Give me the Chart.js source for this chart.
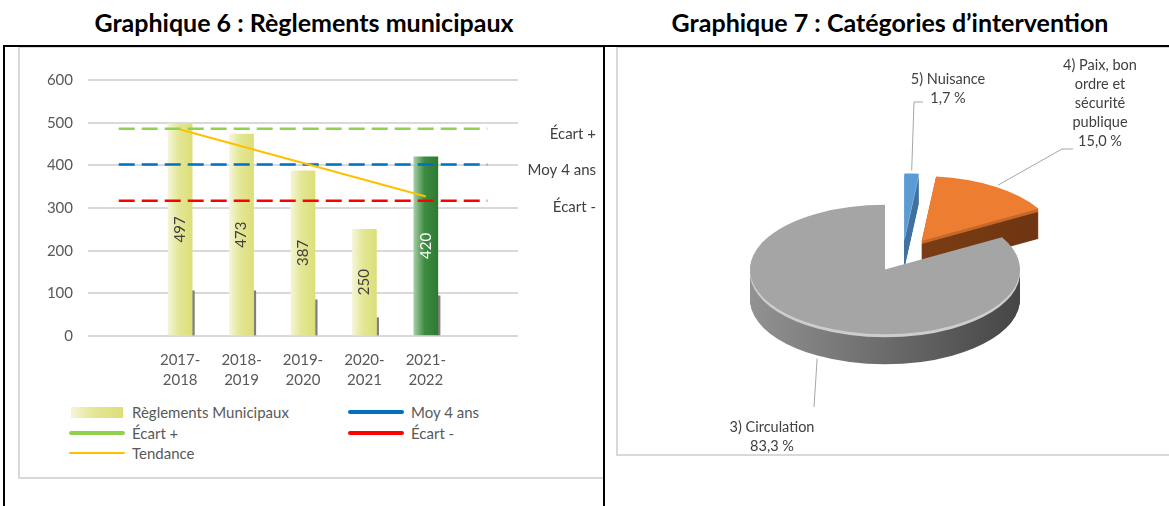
<!DOCTYPE html>
<html lang="fr">
<head>
<meta charset="utf-8">
<title>Graphiques 6 et 7</title>
<script src="https://cdn.jsdelivr.net/npm/chart.js@4/dist/chart.umd.min.js"></script>
<style>
  html, body { margin: 0; padding: 0; background: #fff; }
  body { position: relative; width: 1169px; height: 506px; overflow: hidden; font-family: Lato, 'Noto Sans', sans-serif; }
  .titre { position: absolute; top: 7px; font-size: 25px; font-weight: 700; color: #000; white-space: nowrap; transform: translateX(-50%); }
  .trait { position: absolute; background: #000; }
  .cadre { position: absolute; box-sizing: border-box; border: 2px solid #d9d9d9; }
  canvas { position: absolute; }
  #legende { position: absolute; left: 69px; top: 402px; display: grid; grid-template-columns: 279px 200px; grid-auto-rows: 20.5px; font-size: 15px; color: #595959; }
  .item { display: flex; align-items: center; white-space: nowrap; }
  .marque { flex: none; width: 56px; margin-right: 7px; }
</style>
</head>
<body>
<div class="titre" style="left:304px">Graphique 6 : Règlements municipaux</div>
<div class="titre" style="left:890px">Graphique 7 : Catégories d’intervention</div>
<div class="cadre" style="left:18px; top:46px; width:587px; height:433px"></div>
<div class="cadre" style="left:616px; top:46px; width:560px; height:410px"></div>
<canvas id="graphe6" width="586" height="350" style="left:18px; top:48px"></canvas>
<div id="legende"></div>
<canvas id="graphe7" width="552" height="407" style="left:617px; top:48px"></canvas>
<div class="trait" style="left:3px; top:45px; width:1166px; height:2px"></div>
<div class="trait" style="left:3px; top:45px; width:2px; height:461px"></div>
<div class="trait" style="left:603px; top:45px; width:2px; height:461px"></div>

<script>
// --- Graphique 6 : données
const categories = ['', ['2017-', '2018'], ['2018-', '2019'], ['2019-', '2020'], ['2020-', '2021'], ['2021-', '2022'], ''];
const reglementsMunicipaux = [null, 497, 473, 387, 250, 420, null];
const serieGrise = [null, 106, 106, 85, 43, 94, null];
const moy4ans = [402, 402, 402, 402, 402, 402, 402];
const ecartPlus = [486, 486, 486, 486, 486, 486, 486];
const ecartMoins = [317, 317, 317, 317, 317, 317, 317];
const tendance = [null, 484, null, null, null, 327, null];
const ticksY = [0, 100, 200, 300, 400, 500, 600];

// --- Graphique 7 : données
const categoriesIntervention = [['5) Nuisance'], ['4) Paix, bon', 'ordre et', 'sécurité', 'publique'], ['3) Circulation']];
const partsIntervention = [1.7, 15.0, 83.3];

// styles
const LARGEUR_BARRE = 24;
const IDX_COURANT = 5;
const DECALAGE_GRIS = 0.215;
const APLAT = 0.48;
const EPAISSEUR = 30;
const EXPLOSION = 35;
const RAYON = 135;
const COULEURS_DESSUS = ['#5b9bd5', '#ed7d31', '#a5a5a5'];
const COULEURS_FLANC = [['#4f86b8', '#325d88'], ['#8a4517', '#6a3310'], ['#9c9c9c', '#3b3b3b']];
const COULEURS_REFLET = ['#86b4df', '#c4692c', '#cdcdcd'];
const POSITION_ETIQUETTES = [
  { x: 331, y: 31, coude: [[306, 54], [297, 54]] },
  { x: 483, y: 17, coude: [[456, 101], [445, 101]] },
  { x: 155, y: 379, coude: [[197, 359]] }
];
const INTERLIGNE = 19;

Chart.defaults.font.family = 'Lato';
Chart.defaults.color = '#595959';

function degradeBarre(c) {
  const chart = c.chart;
  const i = c.dataIndex;
  const teintes = i === IDX_COURANT ? ['#a3cda3', '#3d8b40', '#2e7a32'] : ['#f4f5d6', '#e3e694', '#dcdf78'];
  if (!chart.chartArea || i === undefined) return teintes[1];
  const x = chart.scales.x.getPixelForValue(i);
  const g = chart.ctx.createLinearGradient(x - LARGEUR_BARRE / 2, 0, x + LARGEUR_BARRE / 2, 0);
  g.addColorStop(0, teintes[0]);
  g.addColorStop(0.45, teintes[1]);
  g.addColorStop(1, teintes[2]);
  return g;
}

const etiquettes6 = {
  id: 'etiquettes6',
  afterDatasetsDraw(chart) {
    const ctx = chart.ctx;
    ctx.save();
    ctx.font = '15px Lato';
    ctx.textBaseline = 'middle';
    // valeurs dans les barres
    ctx.textAlign = 'center';
    chart.getDatasetMeta(0).data.forEach((barre, i) => {
      const v = reglementsMunicipaux[i];
      if (v == null) return;
      ctx.save();
      ctx.translate(barre.x, (barre.y + barre.base) / 2);
      ctx.rotate(-Math.PI / 2);
      ctx.fillStyle = i === IDX_COURANT ? '#ffffff' : '#404040';
      ctx.fillText(String(v), 0, 0);
      ctx.restore();
    });
    // libellés en bout de ligne
    ctx.textAlign = 'right';
    ctx.fillStyle = '#404040';
    chart.data.datasets.forEach((ds, k) => {
      if (!ds.libelleFin) return;
      const pts = chart.getDatasetMeta(k).data;
      const dernier = pts[pts.length - 1];
      ctx.fillText(ds.label, chart.chartArea.right + 78, dernier.y + 6);
    });
    ctx.restore();
  }
};

function ligne(label, data, couleur, extra) {
  return Object.assign({
    type: 'line', label, data,
    borderColor: couleur, backgroundColor: couleur,
    borderWidth: 2.5, borderDash: [16, 7],
    pointRadius: 0, tension: 0, fill: false, order: 3
  }, extra || {});
}

function degradeFlanc(ctx, cx, r, i) {
  const g = ctx.createLinearGradient(cx - r - EXPLOSION, 0, cx + r + EXPLOSION, 0);
  g.addColorStop(0, COULEURS_FLANC[i][0]);
  g.addColorStop(1, COULEURS_FLANC[i][1]);
  return g;
}

const camembert3d = {
  id: 'camembert3d',
  beforeDatasetDraw(chart, args) {
    const ctx = chart.ctx;
    const arcs = args.meta.data;
    const cx = arcs[0].x, cy = arcs[0].y, r = arcs[0].outerRadius;
    const couche = (dy, couleur) => {
      ctx.save();
      ctx.translate(cx, cy + dy);
      ctx.scale(1, APLAT);
      ctx.translate(-cx, -cy);
      arcs.forEach((arc, i) => {
        const h = (arc.startAngle + arc.endAngle) / 2;
        ctx.save();
        ctx.translate(Math.cos(h) * EXPLOSION, Math.sin(h) * EXPLOSION);
        const copie = Object.create(arc);
        copie.options = Object.assign({}, arc.options, { backgroundColor: couleur(i) });
        copie.draw(ctx);
        ctx.restore();
      });
      ctx.restore();
    };
    for (let d = EPAISSEUR; d >= 1; d--) {
      couche(d, i => (d <= 3 ? COULEURS_REFLET[i] : degradeFlanc(ctx, cx, r, i)));
    }
    couche(0, i => COULEURS_DESSUS[i]);
    return false;
  },
  afterDraw(chart) {
    const ctx = chart.ctx;
    const arcs = chart.getDatasetMeta(0).data;
    ctx.save();
    ctx.font = '14.5px Lato';
    ctx.fillStyle = '#404040';
    ctx.textAlign = 'center';
    ctx.textBaseline = 'middle';
    ctx.strokeStyle = '#a6a6a6';
    ctx.lineWidth = 1;
    arcs.forEach((arc, i) => {
      const pos = POSITION_ETIQUETTES[i];
      const pct = partsIntervention[i].toFixed(1).replace('.', ',') + ' %';
      categoriesIntervention[i].concat([pct]).forEach((t, k) => ctx.fillText(t, pos.x, pos.y + k * INTERLIGNE));
      const h = (arc.startAngle + arc.endAngle) / 2;
      const ax = arc.x + Math.cos(h) * (EXPLOSION + arc.outerRadius);
      let ay = arc.y + Math.sin(h) * (EXPLOSION + arc.outerRadius) * APLAT;
      if (Math.sin(h) > 0) ay += EPAISSEUR;
      const pts = pos.coude.slice();
      const p = pts[pts.length - 1];
      const dist = Math.hypot(ax - p[0], ay - p[1]);
      pts.push([ax - (ax - p[0]) * 3 / dist, ay - (ay - p[1]) * 3 / dist]);
      ctx.beginPath();
      pts.forEach((q, k) => (k ? ctx.lineTo(q[0], q[1]) : ctx.moveTo(q[0], q[1])));
      ctx.stroke();
    });
    ctx.restore();
  }
};

function construireLegende(chart) {
  const zone = document.getElementById('legende');
  chart.data.datasets.forEach(ds => {
    if (!ds.label) return;
    const item = document.createElement('div');
    item.className = 'item';
    const marque = document.createElement('span');
    marque.className = 'marque';
    if (ds.type === 'line') {
      marque.style.height = (ds.borderDash ? 4 : 2) + 'px';
      marque.style.borderRadius = '2px';
      marque.style.background = ds.borderColor;
    } else {
      marque.style.height = '11px';
      marque.style.width = '52px';
      marque.style.margin = '0 9px 0 2px';
      marque.style.background = 'linear-gradient(90deg, #f4f5d6 0%, #e3e694 45%, #dcdf78 100%)';
    }
    const texte = document.createElement('span');
    texte.textContent = ds.label;
    item.appendChild(marque);
    item.appendChild(texte);
    zone.appendChild(item);
  });
}

function dessiner() {
  const graphe6 = new Chart(document.getElementById('graphe6'), {
    type: 'bar',
    data: {
      labels: categories,
      datasets: [
        {
          type: 'bar', label: 'Règlements Municipaux', data: reglementsMunicipaux,
          backgroundColor: degradeBarre, barThickness: LARGEUR_BARRE, grouped: false, order: 10
        },
        ligne('Moy 4 ans', moy4ans, '#0070c0', { libelleFin: true }),
        ligne('Écart +', ecartPlus, '#92d050', { libelleFin: true }),
        ligne('Écart -', ecartMoins, '#ff0000', { libelleFin: true }),
        ligne('Tendance', tendance, '#ffc000', { borderWidth: 2, borderDash: undefined, spanGaps: true, order: 1 }),
        {
          type: 'bar', label: '', xAxisID: 'x2',
          data: serieGrise.map((v, i) => (v == null ? null : { x: i + DECALAGE_GRIS, y: v })).filter(Boolean),
          backgroundColor: '#7f7f7f', barThickness: 2, grouped: false, order: 11
        }
      ]
    },
    options: {
      responsive: false,
      animation: false,
      events: [],
      layout: { padding: { left: 0, right: 86, top: 32, bottom: 0 } },
      plugins: { legend: { display: false }, tooltip: { enabled: false } },
      scales: {
        x: {
          type: 'category', offset: true,
          grid: { display: false, drawTicks: false },
          border: { display: false },
          ticks: { font: { size: 15, lineHeight: 1.33 }, color: '#595959', padding: 14, maxRotation: 0, autoSkip: false },
          afterFit: a => { a.height = 62; }
        },
        x2: { type: 'linear', display: false, offset: false, min: -0.5, max: categories.length - 0.5 },
        y: {
          min: ticksY[0], max: ticksY[ticksY.length - 1],
          grid: { color: '#d9d9d9', lineWidth: 2, drawTicks: false },
          border: { display: false },
          ticks: { stepSize: ticksY[1] - ticksY[0], padding: 15, font: { size: 15 }, color: '#595959' },
          afterFit: a => { a.width = 70; }
        }
      }
    },
    plugins: [etiquettes6]
  });
  construireLegende(graphe6);

  new Chart(document.getElementById('graphe7'), {
    type: 'pie',
    data: {
      labels: categoriesIntervention.map(l => l.join(' ')),
      datasets: [{ data: partsIntervention, backgroundColor: COULEURS_DESSUS, borderWidth: 0 }]
    },
    options: {
      responsive: false,
      animation: false,
      events: [],
      radius: RAYON,
      layout: { padding: { left: 19, top: 7 } },
      plugins: { legend: { display: false }, tooltip: { enabled: false } }
    },
    plugins: [camembert3d]
  });
}

document.fonts.load('15px Lato').then(dessiner, dessiner);
</script>
</body>
</html>
